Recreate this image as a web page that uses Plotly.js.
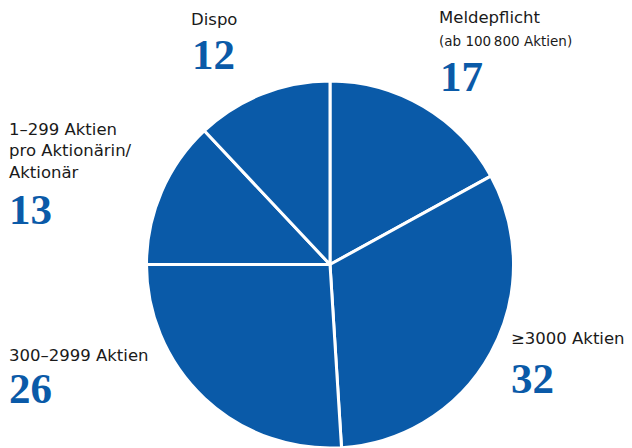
<!DOCTYPE html>
<html>
<head>
<meta charset="utf-8">
<script src="https://cdn.plot.ly/plotly-3.0.1.min.js"></script>
<style>html,body{margin:0;padding:0;background:#fff;}#chart{width:632px;height:448px;}</style>
</head>
<body>
<div id="chart"></div>
<script>
const categories = ["Meldepflicht", "≥3000 Aktien", "300–2999 Aktien", "1–299 Aktien pro Aktionärin/Aktionär", "Dispo"];
const values = [17, 32, 26, 13, 12];
const labelTexts = ["Meldepflicht", "≥3000 Aktien", "300–2999 Aktien", "1–299 Aktien<br>pro Aktionärin/<br>Aktionär", "Dispo"];
const subTexts = ["(ab 100\u202F800 Aktien)", "", "", "", ""];

const blue = "#0a5aa8";
const W = 632, H = 448;
const px = x => x / W;
const py = y => 1 - y / H;

// label layout: [labelX, labelY(center), numberX, numberY(center)]
const pos = [
  [437, 18, 438, 76],
  [509, 338, 509, 378],
  [7, 355, 7, 388],
  [7, 151, 7, 209],
  [189, 19, 190, 55]
];

const labelFont = {family: "'DejaVu Sans', 'Noto Sans', sans-serif", size: 16.5, color: "#1a1a1a"};
const annotations = [];
categories.forEach((c, i) => {
  const p = pos[i];
  annotations.push({
    text: labelTexts[i], x: px(p[0]), y: py(p[1]), xref: "paper", yref: "paper",
    xanchor: "left", yanchor: "middle", align: "left", showarrow: false,
    font: labelFont
  });
  if (subTexts[i]) {
    annotations.push({
      text: subTexts[i], x: px(p[0]), y: py(41), xref: "paper", yref: "paper",
      xanchor: "left", yanchor: "middle", showarrow: false,
      font: {family: "'DejaVu Sans', 'Noto Sans', sans-serif", size: 13.5, color: "#1a1a1a"}
    });
  }
  annotations.push({
    text: String(values[i]), x: px(p[2]), y: py(p[3]), xref: "paper", yref: "paper",
    xanchor: "left", yanchor: "middle", showarrow: false,
    font: {family: "'Liberation Serif', 'DejaVu Serif', serif", size: 43, color: blue, weight: "bold"}
  });
});

const pieCx = 330, pieR = 184, pieTop = 81;
Plotly.newPlot("chart", [{
  type: "pie",
  labels: categories,
  values: values,
  sort: false,
  direction: "clockwise",
  rotation: 0,
  textinfo: "none",
  hoverinfo: "none",
  marker: {colors: values.map(() => blue), line: {color: "#ffffff", width: 3}},
  domain: {x: [px(pieCx - pieR), px(pieCx + pieR)], y: [py(pieTop + 2 * pieR), py(pieTop)]},
  showlegend: false
}], {
  width: W, height: H,
  margin: {l: 0, r: 0, t: 0, b: 0},
  paper_bgcolor: "#ffffff",
  showlegend: false,
  annotations: annotations
}, {staticPlot: true, displayModeBar: false});
</script>
</body>
</html>
